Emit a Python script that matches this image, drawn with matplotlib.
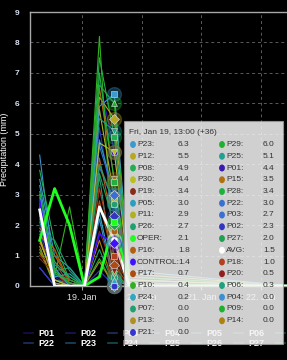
import matplotlib
matplotlib.use("Agg")
import matplotlib.pyplot as plt
from matplotlib.patches import Rectangle, Circle
from matplotlib.lines import Line2D
import pandas as pd

plt.rcParams['font.family'] = ['Liberation Sans', 'DejaVu Sans']

# forecast steps (6-hourly), last point just past the visible range
times = pd.to_datetime(["2018-01-18 07:00", "2018-01-18 13:00", "2018-01-18 19:00",
                        "2018-01-19 01:00", "2018-01-19 07:00", "2018-01-19 13:00",
                        "2018-01-19 19:00", "2018-01-22 12:00"])
hover = 5

names = ["P01", "P02", "P03", "P04", "P05", "P06", "P07", "P08", "P09", "P10",
         "P11", "P12", "P13", "P14", "P15", "P16", "P17", "P18", "P19", "P20",
         "P21", "P22", "P23", "P24", "P25", "P26", "P27", "P28", "P29", "P30",
         "AVG", "CONTROL", "OPER"]

values = [
    [2.0, 0.3, 0.0, 0.0, 6.8, 4.4, 0.2, 0.0],  # P01
    [1.8, 0.2, 0.0, 0.0, 5.2, 2.3, 0.0, 0.0],  # P02
    [0.6, 0.0, 0.0, 0.0, 3.9, 2.7, 0.1, 0.0],  # P03
    [4.3, 0.4, 0.1, 0.0, 2.2, 0.0, 0.0, 0.0],  # P04
    [3.5, 1.0, 0.6, 0.0, 4.8, 3.0, 0.0, 0.0],  # P05
    [2.2, 0.5, 0.6, 0.0, 3.6, 0.3, 0.0, 0.0],  # P06
    [1.5, 0.2, 0.1, 0.0, 1.2, 0.0, 0.0, 0.0],  # P07
    [3.8, 1.4, 0.2, 0.0, 7.5, 4.9, 0.3, 0.0],  # P08
    [1.2, 0.0, 0.0, 0.0, 0.9, 0.0, 0.0, 0.0],  # P09
    [2.6, 0.3, 2.6, 0.0, 8.2, 0.4, 0.0, 0.0],  # P10
    [1.6, 0.1, 0.0, 0.0, 5.8, 2.9, 0.0, 0.0],  # P11
    [2.4, 0.5, 0.0, 0.0, 6.2, 5.5, 0.4, 0.0],  # P12
    [1.3, 0.0, 0.0, 0.0, 0.8, 0.0, 0.0, 0.0],  # P13
    [1.1, 0.2, 0.0, 0.0, 1.5, 0.0, 0.0, 0.0],  # P14
    [1.9, 1.2, 0.1, 0.0, 6.5, 3.5, 0.2, 0.0],  # P15
    [1.7, 1.0, 0.2, 0.0, 4.2, 1.8, 0.0, 0.0],  # P16
    [1.2, 1.2, 0.0, 0.0, 2.8, 0.7, 0.0, 0.0],  # P17
    [1.4, 0.8, 0.0, 0.0, 3.2, 1.0, 0.0, 0.0],  # P18
    [1.0, 0.6, 0.0, 0.0, 3.3, 3.4, 0.1, 0.0],  # P19
    [0.9, 0.4, 0.0, 0.0, 1.8, 0.5, 0.0, 0.0],  # P20
    [0.6, 0.0, 0.0, 0.0, 0.5, 0.0, 0.0, 0.0],  # P21
    [2.9, 0.2, 0.0, 0.0, 4.6, 3.0, 0.0, 0.0],  # P22
    [3.3, 0.6, 0.0, 0.0, 5.9, 6.3, 0.5, 0.0],  # P23
    [3.0, 0.3, 0.4, 0.0, 2.4, 0.2, 0.0, 0.0],  # P24
    [2.1, 0.7, 0.3, 0.0, 5.5, 5.1, 0.2, 0.0],  # P25
    [1.8, 1.5, 0.5, 0.0, 4.0, 2.7, 0.0, 0.0],  # P26
    [2.3, 0.4, 0.2, 0.0, 3.7, 2.0, 0.0, 0.0],  # P27
    [2.7, 0.8, 0.3, 0.0, 7.0, 3.4, 0.1, 0.0],  # P28
    [3.1, 0.5, 0.1, 0.0, 6.6, 6.0, 0.3, 0.0],  # P29
    [1.5, 0.2, 0.0, 0.0, 4.7, 4.4, 0.2, 0.0],  # P30
    [2.5, 0.0, 0.0, 0.0, 2.6, 1.5, 0.0, 0.0],  # AVG
    [2.8, 0.0, 0.0, 0.0, 1.7, 1.4, 0.0, 0.0],  # CONTROL
    [1.5, 3.2, 2.0, 0.0, 0.3, 2.1, 0.0, 0.0],  # OPER
]

colors = ["#3a1ab0", "#3434c0", "#3a70d0", "#3a90d0", "#2a9fc0", "#20a080",
          "#20a070", "#20b050", "#20b030", "#30b020", "#b0b020", "#b8a820",
          "#b09020", "#b08010", "#b07010", "#b06010", "#b04a10", "#b04020",
          "#8a2a1a", "#902020", "#3434d0", "#3a70d0", "#3a9ad0", "#30a8c0",
          "#20a090", "#20a070", "#20a050", "#20b040", "#20b030", "#b8c020",
          "#ffffff", "#4010ff", "#20ff20"]

legend_rows = [["P01", "P02", "P03", "P04", "P05", "P06", "P07"],
               ["P22", "P23", "P24", "P25", "P26", "P27", "P28"]]

tick_days = pd.to_datetime(["2018-01-19", "2018-01-20", "2018-01-21", "2018-01-22"])
tick_labels = ["19. Jan", "20. Jan", "21. Jan", "22. Jan"]

W, H = 287, 360
fig = plt.figure(figsize=(W / 100, H / 100), dpi=100, facecolor="black")


def px(x, y):
    return x / W, 1 - y / H


ax = fig.add_axes([30 / W, 74 / H, 257 / W, 274 / H], facecolor="black")
ax.set_xlim(pd.Timestamp("2018-01-18 03:06"), pd.Timestamp("2018-01-22 10:24"))
ax.set_ylim(0, 9)

markers = ["o", "D", "s", "^", "v"]
for i, (name, vals, col) in enumerate(zip(names, values, colors)):
    if name == "AVG":
        lw, z = 2.0, 6
    elif name == "OPER":
        lw, z = 2.0, 5
    elif name == "CONTROL":
        lw, z = 1.2, 4
    else:
        lw, z = 0.8, 3
    ax.plot(times, vals, color=col, lw=lw, zorder=z)
    hv = vals[hover]
    ax.plot([times[hover]], [hv], marker="o", ms=10, color=col, alpha=0.3,
            zorder=7, clip_on=False, lw=0)
    ax.plot([times[hover]], [hv], marker=markers[i % 5], ms=4.8, color=col,
            mec="#e0e0e0", mew=0.4, zorder=8, clip_on=False, lw=0)

ax.grid(True, color="#5a5a5a", ls=(0, (3, 3)), lw=0.7)
ax.set_axisbelow(True)
ax.set_yticks(range(10))
ax.set_xticks(tick_days)
ax.set_xticklabels(tick_labels)
ax.tick_params(axis="y", length=0, pad=7.5, labelsize=6, labelcolor="#d8e0f0")
ax.tick_params(axis="x", length=3, color="#a0a0a0", pad=2, labelsize=6.5,
               labelcolor="#e0e0e0")
for lab in ax.get_yticklabels():
    lab.set_fontweight("bold")
for side in ["top", "left", "bottom"]:
    ax.spines[side].set_color("#a8a8a8")
    ax.spines[side].set_linewidth(1.0)
ax.spines["right"].set_visible(False)
ax.set_ylabel("Precipitation (mm)", color="white", fontsize=6.5, labelpad=4)

# legend (partially visible, runs off the right edge)
for r, row in enumerate(legend_rows):
    yy = 333 + r * 10
    for k, name in enumerate(row):
        x0 = 24 + k * 42
        col = colors[names.index(name)]
        fig.add_artist(Line2D([px(x0, 0)[0], px(x0 + 9, 0)[0]], [px(0, yy)[1]] * 2,
                              color=col, alpha=0.45, lw=1.2, zorder=2))
        if x0 + 14 < W - 10:
            fig.text(*px(x0 + 14, yy), name, color="white", fontsize=6.5,
                     fontweight="bold", va="center", ha="left", zorder=2)

# tooltip
x0, y0 = px(124, 344)
x1, y1 = px(283, 121)
fig.add_artist(Rectangle((x0, y0), x1 - x0, y1 - y0, transform=fig.transFigure,
                         facecolor="#f4f4f4", alpha=0.86, edgecolor="#9a9a9a",
                         lw=0.8, zorder=10))
fig.text(*px(129, 132), "Fri, Jan 19, 13:00 (+36)", fontsize=6, color="#333333",
         va="center", ha="left", zorder=11)

entries = sorted([(vals[hover], name, col) for name, vals, col in zip(names, values, colors)],
                 key=lambda e: (-e[0], e[1]))
for j, (v, name, col) in enumerate(entries):
    row, colm = divmod(j, 2)
    yy = 144.5 + row * 11.75
    dx = 0 if colm == 0 else 89
    fig.add_artist(Circle(px(133 + dx, yy), 2.2 / W, transform=fig.transFigure,
                          color=col, zorder=11))
    fig.text(*px(137 + dx, yy), name + ":", fontsize=6, color="#333333",
             va="center", ha="left", zorder=11)
    fig.text(*px(178 + dx - (4 if colm else 0), yy), f"{v:.1f}", fontsize=6,
             color="#333333", va="center", ha="left", zorder=11)

fig.savefig("out.png", dpi=100, facecolor="black")
